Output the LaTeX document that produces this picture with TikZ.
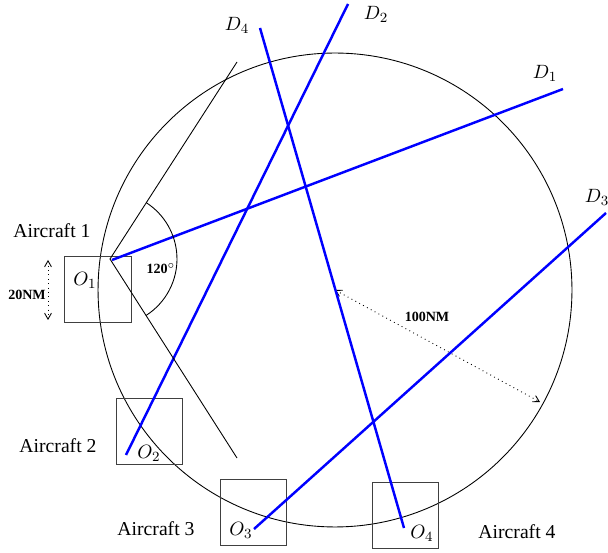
\documentclass[tikz,border=0pt]{standalone}
\usepackage{fontspec}
\setmainfont{Liberation Serif}
\usetikzlibrary{arrows, positioning}

\begin{document}
\begin{tikzpicture}[x=0.02cm, y=-0.02cm,
    acbox/.style={rectangle, draw=black!75, minimum size=1.33cm, inner sep=0pt},
    route/.style={blue, line width=1.4pt},
    sector/.style={black, line width=0.5pt},
    dim/.style={dotted, <->, >=angle 60, line width=0.5pt},
    lbl/.style={font=\fontsize{11.2}{13}\selectfont, inner sep=1pt},
    nm/.style={font=\footnotesize\bfseries, inner sep=1pt}]
\useasboundingbox (0,0) rectangle (608,553);
% protected zone
\coordinate (ctr) at (335,290);
\coordinate (rim) at (540,402);
\draw [sector] (ctr) circle (4.74cm);
\draw [dim] (ctr) -- (rim);
\node (nm100) [nm] at (427,317) {100NM};
% aircraft boxes
\node (box1) [acbox] at (98,289.5) {};
\node (box2) [acbox] at (149.5,431.5) {};
\node (box3) [acbox] at (253.5,512.5) {};
\node (box4) [acbox] at (405.5,515.5) {};
\node (ac1) [lbl] at (52,231) {Aircraft 1};
\node (ac2) [lbl] at (58,446) {Aircraft 2};
\node (ac3) [lbl] at (156,529) {Aircraft 3};
\node (ac4) [lbl] at (517,532) {Aircraft 4};
% origins and destinations
\coordinate (o1) at (112,260);
\coordinate (o2) at (126,455);
\coordinate (o3) at (254,529);
\coordinate (o4) at (404,528);
\coordinate (d1) at (563,89);
\coordinate (d2) at (348,4);
\coordinate (d3) at (606,213);
\coordinate (d4) at (260,28);
\node (o1lab) [lbl] at (85,280) {$O_1$};
\node (o2lab) [lbl] at (149,453) {$O_2$};
\node (o3lab) [lbl] at (241,530) {$O_3$};
\node (o4lab) [lbl] at (422,533) {$O_4$};
\node (d1lab) [lbl] at (545,73) {$D_1$};
\node (d2lab) [lbl] at (376,14) {$D_2$};
\node (d3lab) [lbl] at (597,197) {$D_3$};
\node (d4lab) [lbl] at (237,25) {$D_4$};
\draw [route] (o1) -- (d1);
\draw [route] (o2) -- (d2);
\draw [route] (o3) -- (d3);
\draw [route] (o4) -- (d4);
% heading sector of aircraft 1
\coordinate (apex) at (110,259);
\coordinate (upper) at (237,62);
\coordinate (lower) at (237,458);
\draw [sector] (upper) -- (apex) -- (lower);
\draw [sector] ([shift={(-57.5:1.34cm)}]apex) arc (-57.5:57.2:1.34cm);
\node (ang) [nm] at (161,269) {120$^\circ$};
% box size
\coordinate (hi) at (48,260);
\coordinate (lo) at (48,320);
\draw [dim] (hi) -- (lo);
\node (nm20) [nm] at (27,295) {20NM};
\end{tikzpicture}
\end{document}
